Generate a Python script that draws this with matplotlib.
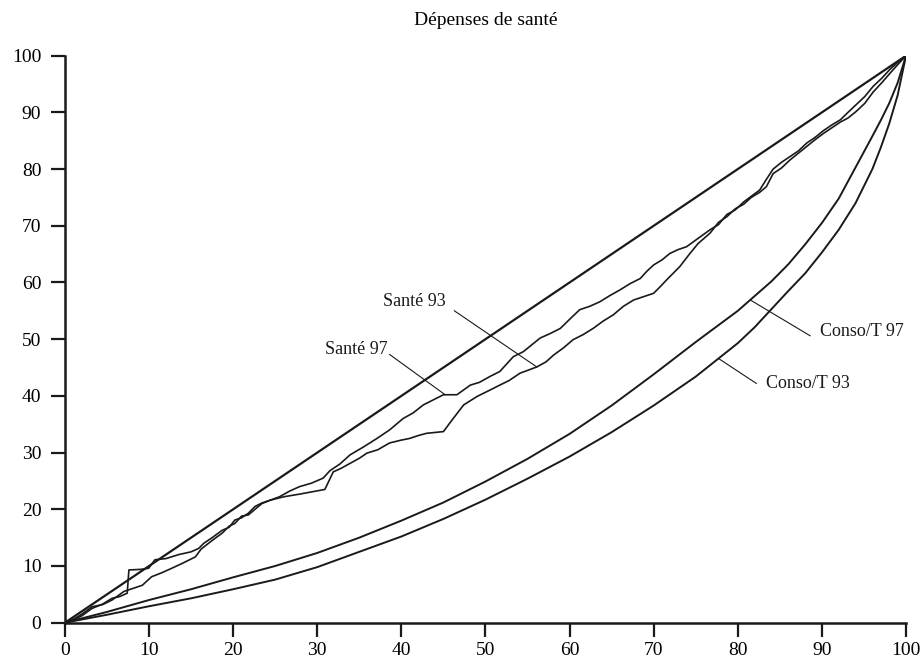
import matplotlib
matplotlib.use('Agg')
import matplotlib.pyplot as plt

# diagonal (equal distribution)
egal_x = [0, 100]
egal_y = [0, 100]

# Conso/T 97
conso97_x = [0, 5, 10, 15, 20, 25, 30, 35, 40, 45, 50, 55, 60, 65, 70, 75, 80, 82, 84, 86,
             88, 90, 92, 94, 96, 97, 98, 99, 100]
conso97_y = [0, 1.9, 4.0, 5.9, 8.0, 10.0, 12.3, 15.0, 18.0, 21.2, 24.9, 28.9, 33.3, 38.3, 43.8,
             49.5, 55.0, 57.6, 60.2, 63.2, 66.7, 70.5, 74.8, 80.3, 85.8, 88.6, 91.6, 95.2, 100]

# Conso/T 93
conso93_x = [0, 5, 10, 15, 20, 25, 30, 35, 40, 45, 50, 55, 60, 65, 70, 75, 80, 82, 84, 86,
             88, 90, 92, 94, 96, 97, 98, 99, 100]
conso93_y = [0, 1.4, 2.9, 4.3, 5.9, 7.6, 9.8, 12.5, 15.2, 18.3, 21.7, 25.4, 29.3, 33.6, 38.3,
             43.4, 49.3, 52.1, 55.3, 58.5, 61.6, 65.3, 69.3, 74.0, 80.0, 83.8, 88.0, 93.0, 100]

# Santé 93
sante93_x = [0, 1, 2, 3.2, 4.5, 5.6, 6.5, 7.4, 7.6, 9.0, 9.95, 10.7, 12, 13.5, 15, 15.9, 16.5,
             17.5, 18.7, 19.5, 20.2, 21.0, 21.8, 22.6, 23.4, 24.4, 26, 28, 30.9, 31.9, 32.8,
             33.9, 35, 35.9, 37.2, 38.6, 40, 41.0, 42, 43.0, 45.0, 46.0, 47.4, 49.0, 50.5,
             51.7, 52.8, 54.1, 56.1, 57.2, 58.1, 59.3, 60.4, 61.6, 62.8, 64, 65.2, 66.4, 67.6,
             68.8, 70.0, 70.8, 71.5, 72.3, 73.1, 74.3,
             75.3, 76.7, 77.7, 78.7, 79.7, 80.7, 81.6, 82.6, 83.4, 84.2, 85.2, 86.2, 87.2,
             88.2, 89.2, 90.2, 91.2, 92.2, 93.1, 94.1, 95.1, 96.1, 97.1, 98.1, 99.0, 100]
sante93_y = [0, 0.5, 1.2, 2.5, 3.3, 4.3, 4.6, 5.2, 9.3, 9.4, 9.6, 11.1, 11.3, 12.0, 12.5, 13.1,
             14.0, 15.0, 16.3, 16.8, 18.1, 18.5, 19.3, 20.5, 21.1, 21.6, 22.2, 22.7, 23.5, 26.6,
             27.2, 28.1, 29.0, 29.9, 30.5, 31.7, 32.2, 32.5, 33.0, 33.4, 33.7, 35.7, 38.4, 39.9,
             41.0, 41.9, 42.7, 44.0, 45.1, 46.0, 47.2, 48.5, 49.9, 50.8, 51.9, 53.2, 54.3, 55.8,
             56.9, 57.5, 58.1, 59.3, 60.4, 61.6, 62.8, 65.1,
             66.9, 68.7, 70.6, 71.6, 73.0, 73.8, 75.0, 75.9, 76.9, 79.2, 80.2, 81.6, 82.8,
             84.0, 85.2, 86.3, 87.3, 88.3, 89.0, 90.2, 91.6, 93.6, 95.2, 96.9, 98.4, 100]

# Santé 97
sante97_x = [0, 1, 2, 3.2, 4.5, 5.6, 7, 8, 9.2, 10.3, 11.5, 12.7, 14, 15.5, 16.2, 17.5, 18.7,
             19.5, 20.2, 21.0, 21.8, 22.6, 23.4, 24.4, 25.5, 26.7, 27.9, 29.3, 30.7, 31.5, 32.7,
             33.9, 35.5, 37.1, 38.6, 40.2, 41.4, 42.6, 43.8, 45.0, 46.6, 48.2, 49.3, 50.5, 51.7,
             52.5, 53.3, 54.5, 55.5, 56.5, 57.7, 58.9, 60.0, 61.2, 62.4, 63.6, 64.8, 66.0, 67.2,
             68.4, 69.2, 70.0, 71.0, 71.9, 72.9, 73.9,
             75.3, 76.7, 77.7, 78.7, 79.7, 80.7, 81.6, 82.6, 83.4, 84.2, 85.2, 86.2, 87.2,
             88.2, 89.2, 90.2, 91.2, 92.2, 93.1, 94.1, 95.1, 96.1, 97.1, 98.1, 99.0, 100]
sante97_y = [0, 0.6, 1.5, 2.8, 3.2, 4.0, 5.5, 6.0, 6.6, 8.1, 8.8, 9.6, 10.5, 11.6, 13.0, 14.5,
             15.8, 17.0, 17.5, 18.8, 19.0, 20.0, 21.0, 21.6, 22.2, 23.2, 24.0, 24.6, 25.5, 26.8,
             28.0, 29.6, 31.0, 32.5, 34.0, 36.0, 37.0, 38.4, 39.3, 40.2, 40.2, 41.9, 42.4, 43.4,
             44.3, 45.6, 46.9, 47.8, 49.0, 50.2, 51.0, 51.9, 53.5, 55.2, 55.8, 56.6, 57.7, 58.7,
             59.8, 60.7, 62.0, 63.1, 64.0, 65.1, 65.8, 66.3,
             67.8, 69.3, 70.2, 72.0, 72.8, 74.2, 75.2, 76.3, 78.2, 80.0, 81.2, 82.2, 83.2,
             84.6, 85.6, 86.8, 87.8, 88.7, 90.0, 91.4, 92.8, 94.6, 96.0, 97.6, 98.8, 100]

ticks = [0, 10, 20, 30, 40, 50, 60, 70, 80, 90, 100]

# labels: text position and leader line (from text side to curve)
label_text = ['Santé 93', 'Santé 97', 'Conso/T 97', 'Conso/T 93']
label_pos = [(41.6, 56.6), (34.6, 48.1), (94.7, 51.3), (88.3, 42.1)]
leader_from = [(46.3, 55.0), (38.6, 47.3), (88.6, 50.6), (82.2, 42.2)]
leader_to = [(56.1, 45.1), (45.2, 40.2), (81.5, 56.9), (77.8, 46.5)]

plt.rcParams['font.family'] = ['Liberation Serif', 'DejaVu Serif']
plt.rcParams['font.size'] = 13

fig = plt.figure(figsize=(9.23, 6.62), dpi=100)
ax = fig.add_axes([0.0704, 0.0594, 0.9112, 0.8565])

ink = '#1a1a1a'
ax.plot(egal_x, egal_y, color=ink, lw=1.6)
ax.plot(conso97_x, conso97_y, color=ink, lw=1.4)
ax.plot(conso93_x, conso93_y, color=ink, lw=1.4)
ax.plot(sante93_x, sante93_y, color=ink, lw=1.2)
ax.plot(sante97_x, sante97_y, color=ink, lw=1.2)

for txt, pos, p0, p1 in zip(label_text, label_pos, leader_from, leader_to):
    ax.text(pos[0], pos[1], txt, ha='center', va='center', fontsize=13, color=ink)
    ax.plot([p0[0], p1[0]], [p0[1], p1[1]], color=ink, lw=0.8)

ax.set_title('Dépenses de santé', fontsize=14, pad=22)

ax.set_xlim(0, 100)
ax.set_ylim(0, 100)
ax.set_xticks(ticks)
ax.set_yticks(ticks)
for side in ['top', 'right']:
    ax.spines[side].set_visible(False)
for side in ['left', 'bottom']:
    ax.spines[side].set_linewidth(1.8)
    ax.spines[side].set_color(ink)
ax.tick_params(direction='out', length=10, width=1.6, color=ink, labelsize=14)
ax.tick_params(axis='y', pad=7)
ax.tick_params(axis='x', pad=4)

fig.savefig('out.png', dpi=100)
